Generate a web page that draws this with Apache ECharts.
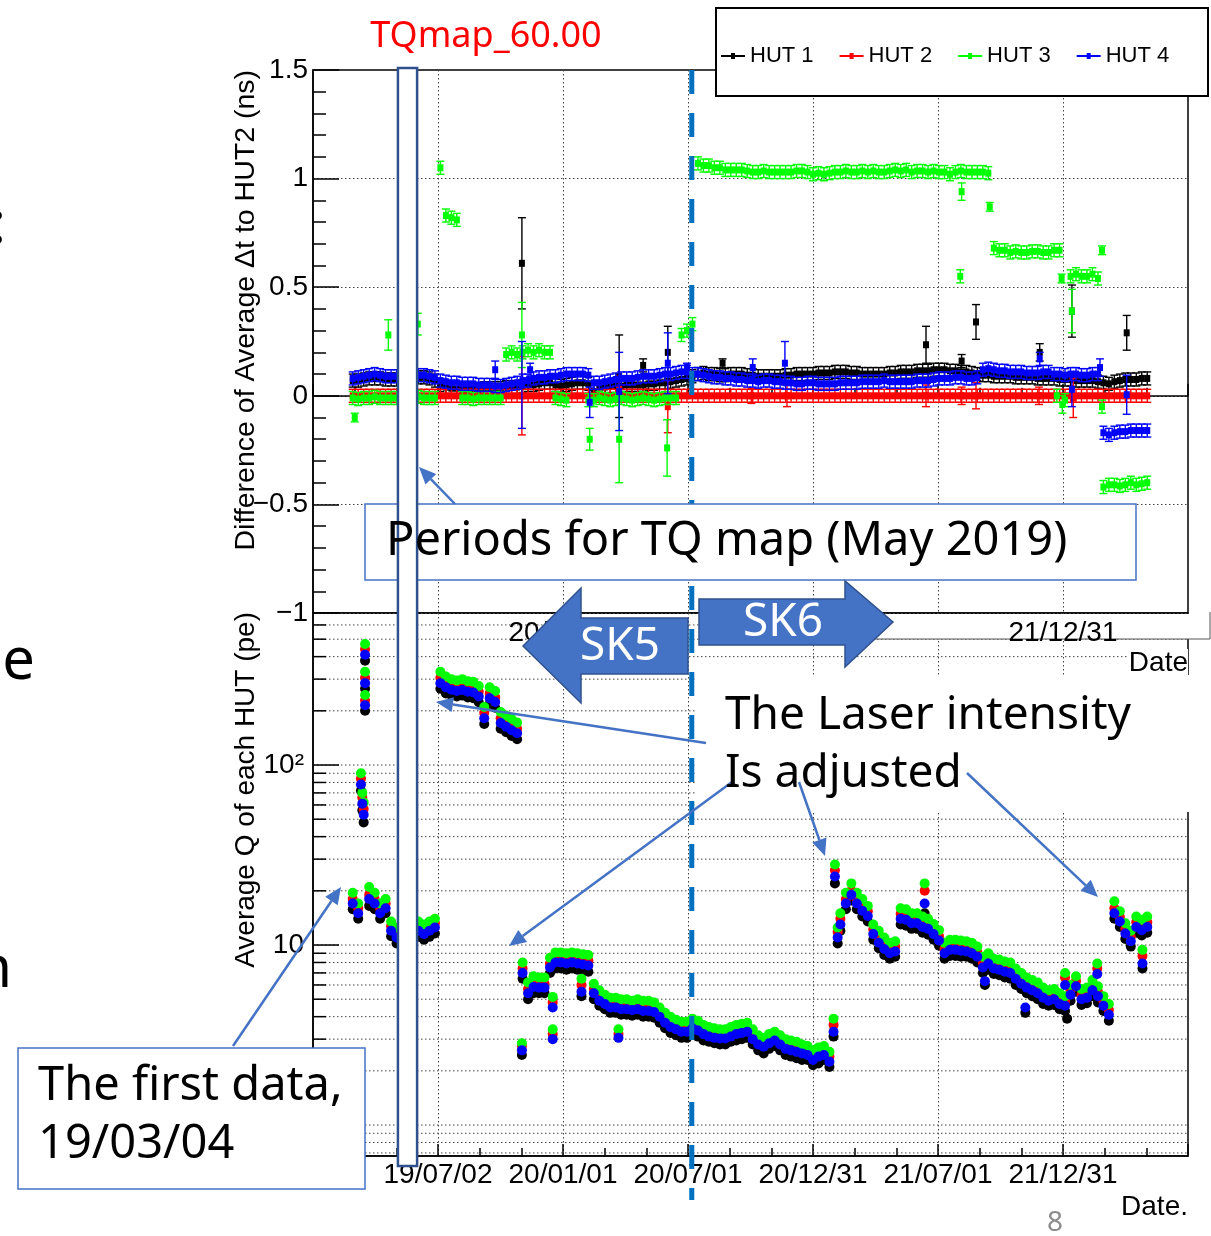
<!DOCTYPE html>
<html>
<head>
<meta charset="utf-8">
<script src="https://cdn.jsdelivr.net/npm/echarts@6/dist/echarts.min.js"></script>
<style>
  html, body { margin: 0; padding: 0; background: #fff; }
  #main { width: 1211px; height: 1236px; }
</style>
</head>
<body>
<div id="main"></div>
<script>
// x values are days counted from 2019-01-01
const days = [
  58, 66, 74, 82, 90, 98, 106, 114, 122, 130,
  138, 146, 154, 162, 170, 178, 186, 194, 202, 210,
  218, 226, 234, 242, 250, 258, 266, 274, 282, 290,
  298, 306, 314, 322, 330, 338, 346, 354, 362, 370,
  378, 386, 394, 402, 410, 418, 426, 434, 442, 450,
  458, 466, 474, 482, 490, 498, 506, 514, 522, 530,
  538, 546, 554, 562, 570, 578, 586, 594, 602, 610,
  618, 626, 634, 642, 650, 658, 666, 674, 682, 690,
  698, 706, 714, 722, 730, 738, 746, 754, 762, 770,
  778, 786, 794, 802, 810, 818, 826, 834, 842, 850,
  858, 866, 874, 882, 890, 898, 906, 914, 922, 930,
  938, 946, 954, 962, 970, 978, 986, 994, 1002, 1010,
  1018, 1026, 1034, 1042, 1050, 1058, 1066, 1074, 1082, 1090,
  1098, 1106, 1114, 1122, 1130, 1138, 1146, 1154, 1162, 1170,
  1178, 1186, 1194, 1202, 1210, 1218
];

const hutNames = ['HUT 1', 'HUT 2', 'HUT 3', 'HUT 4'];
const hutColors = ['#000000', '#ff0000', '#00ff00', '#0000ff'];

// top pad: difference of average dt to HUT2 (ns)
const dtHut1 = [
  0.07, 0.07, 0.075, 0.08, 0.08, 0.08, 0.075, 0.075, 0.075, null,
  null, null, 0.085, 0.085, 0.08, 0.07, 0.05, 0.04, 0.035, 0.035,
  0.03, 0.03, 0.03, 0.03, 0.035, 0.035, 0.035, 0.035, 0.04, 0.04,
  0.04, 0.045, 0.05, 0.05, 0.055, 0.06, 0.06, 0.05, 0.045, 0.05,
  0.055, 0.06, 0.06, 0.055, 0.02, 0.04, 0.04, 0.045, 0.045, 0.045,
  0.05, 0.05, 0.05, 0.05, 0.055, 0.055, 0.06, 0.06, 0.065, 0.07,
  0.075, 0.08, 0.09, 0.1, 0.105, 0.1, 0.1, 0.095, 0.095, 0.1,
  0.1, 0.1, 0.095, 0.095, 0.09, 0.09, 0.09, 0.09, 0.09, 0.095,
  0.095, 0.1, 0.1, 0.1, 0.1, 0.105, 0.105, 0.105, 0.11, 0.11,
  0.11, 0.105, 0.105, 0.1, 0.1, 0.1, 0.1, 0.1, 0.105, 0.105,
  0.11, 0.11, 0.11, 0.115, 0.115, 0.115, 0.12, 0.12, 0.12, 0.115,
  0.115, 0.11, 0.11, 0.105, 0.1, 0.095, 0.095, 0.09, 0.09, 0.09,
  0.09, 0.085, 0.085, 0.085, 0.085, 0.08, 0.08, 0.08, 0.08, 0.075,
  0.075, 0.075, 0.07, 0.07, 0.07, 0.07, 0.065, 0.06, 0.055, 0.065,
  0.07, 0.075, 0.075, 0.075, 0.08, 0.08
];
const dtHut2 = [
  0, 0, 0, 0, 0, 0, 0, 0, 0, null,
  null, null, 0, 0, 0, 0, 0, 0, 0, 0,
  0, 0, 0, 0, 0, 0, 0, 0, 0, 0,
  0, 0, 0, 0, 0, 0, 0, 0, 0, 0,
  0, 0, 0, 0, 0, 0, 0, 0, 0, 0,
  0, 0, 0, 0, 0, 0, 0, 0, 0, 0,
  0, 0, 0, 0, 0, 0, 0, 0, 0, 0,
  0, 0, 0, 0, 0, 0, 0, 0, 0, 0,
  0, 0, 0, 0, 0, 0, 0, 0, 0, 0,
  0, 0, 0, 0, 0, 0, 0, 0, 0, 0,
  0, 0, 0, 0, 0, 0, 0, 0, 0, 0,
  0, 0, 0, 0, 0, 0, 0, 0, 0, 0,
  0, 0, 0, 0, 0, 0, 0, 0, 0, 0,
  0, 0, 0, 0, 0, 0, 0, 0, 0, 0,
  0, 0, 0, 0, 0, 0
];
const dtHut3 = [
  -0.01, -0.015, -0.01, -0.01, -0.005, -0.01, -0.01, -0.01, -0.01, null,
  null, null, -0.005, -0.01, -0.01, -0.01, 1.05, 0.83, 0.82, 0.81,
  -0.01, -0.01, -0.015, -0.01, -0.01, -0.01, -0.01, -0.01, 0.19, 0.2,
  0.19, 0.2, 0.21, 0.2, 0.21, 0.2, 0.2, -0.01, -0.015, -0.02,
  null, null, null, -0.02, -0.02, -0.01, -0.015, -0.02, -0.015, -0.01,
  -0.015, -0.02, -0.015, -0.01, -0.015, -0.02, -0.015, -0.01, -0.01, -0.01,
  0.28, 0.3, 0.33, 1.07, 1.06, 1.06, 1.05, 1.05, 1.04, 1.04,
  1.04, 1.04, 1.035, 1.03, 1.03, 1.035, 1.03, 1.03, 1.03, 1.03,
  1.03, 1.035, 1.035, 1.03, 1.02, 1.025, 1.02, 1.025, 1.03, 1.03,
  1.035, 1.03, 1.03, 1.035, 1.03, 1.035, 1.03, 1.03, 1.035, 1.04,
  1.035, 1.04, 1.03, 1.035, 1.035, 1.03, 1.035, 1.03, 1.03, 1.02,
  1.03, 1.035, 1.03, 1.03, 1.03, 1.03, 1.025, 0.68, 0.67, 0.67,
  0.66, 0.665, 0.66, 0.66, 0.665, 0.665, 0.66, 0.66, 0.67, 0.67,
  -0.02, 0.55, 0.56, 0.55, 0.55, 0.56, 0.54, -0.42, -0.41, -0.41,
  -0.415, -0.41, -0.4, -0.41, -0.405, -0.4
];
const dtHut4 = [
  0.08, 0.085, 0.09, 0.095, 0.1, 0.095, 0.09, 0.09, 0.09, null,
  null, null, 0.095, 0.095, 0.09, 0.085, 0.07, 0.065, 0.06, 0.06,
  0.055, 0.055, 0.055, 0.05, 0.05, 0.05, 0.045, 0.045, 0.05, 0.055,
  0.06, 0.07, 0.07, 0.08, 0.085, 0.085, 0.09, 0.09, 0.095, 0.1,
  0.1, 0.1, 0.1, 0.095, 0.06, 0.06, 0.065, 0.07, 0.075, 0.08,
  0.08, 0.08, 0.085, 0.09, 0.09, 0.09, 0.095, 0.1, 0.1, 0.105,
  0.11, 0.11, 0.1, 0.1, 0.095, 0.09, 0.085, 0.085, 0.08, 0.08,
  0.075, 0.075, 0.07, 0.07, 0.065, 0.07, 0.07, 0.065, 0.065, 0.06,
  0.06, 0.055, 0.055, 0.06, 0.06, 0.055, 0.055, 0.055, 0.055, 0.06,
  0.06, 0.06, 0.06, 0.065, 0.065, 0.065, 0.065, 0.07, 0.065, 0.065,
  0.065, 0.065, 0.065, 0.07, 0.07, 0.07, 0.075, 0.08, 0.08, 0.08,
  0.085, 0.085, 0.08, 0.08, 0.085, 0.12, 0.125, 0.12, 0.115, 0.115,
  0.11, 0.11, 0.11, 0.105, 0.105, 0.105, 0.11, 0.11, 0.1, 0.1,
  0.095, 0.1, 0.1, 0.095, 0.095, 0.1, 0.1, -0.17, -0.18, -0.17,
  -0.165, -0.165, -0.16, -0.16, -0.16, -0.16
];
const DT_ERR = 0.03;

// isolated points with their own error: [day, value, error]
const dtOutliers1 = [[305, 0.61, 0.21], [447, 0.09, 0.19], [518, 0.2, 0.12], [482, 0.14, 0.03],
  [598, 0.15, 0.02], [895, 0.235, 0.085], [947, 0.16, 0.03], [968, 0.34, 0.08], [1061, 0.2, 0.04],
  [1108, 0.39, 0.12], [1188, 0.29, 0.08]];
const dtOutliers2 = [[305, 0, 0.18], [447, 0.03, 0.06], [518, -0.05, 0.12], [640, 0, 0.035],
  [692, 0, 0.05], [895, 0, 0.05], [947, 0, 0.04], [968, 0, 0.06], [1060, 0, 0.04], [1110, -0.01, 0.09]];
const dtOutliers3 = [[61, -0.1, 0.02], [110, 0.28, 0.07], [153, 0.33, 0.05], [305, 0.28, 0.15],
  [404, -0.2, 0.05], [447, -0.2, 0.2], [517, -0.24, 0.13], [945, 0.55, 0.03], [947, 0.94, 0.04],
  [988, 0.87, 0.02], [1086, 0, 0.03], [1093, 0.54, 0.02], [1094, -0.04, 0.04], [1108, 0.39, 0.1],
  [1152, 0.67, 0.02], [1152, -0.05, 0.03]];
const dtOutliers4 = [[266, 0.12, 0.04], [305, 0.05, 0.2], [317, 0.12, 0.03], [404, -0.03, 0.07],
  [447, 0.02, 0.18], [518, 0.15, 0.14], [546, 0.13, 0.02], [642, 0.13, 0.04], [689, 0.15, 0.1],
  [1061, 0.17, 0.03], [1108, 0.03, 0.08], [1149, 0.13, 0.04], [1188, 0.005, 0.09]];

// bottom pad: average Q of each HUT (pe)
const qHut1 = [
  15.8, 14, null, 16.5, 15.8, 14, 15, 11.2, 10.2, null,
  null, null, 11.1, 10.7, 11.1, 11.6, 265, 250, 244, 240,
  243, 237, 235, 223, 169, 219, 208, 159, 152, 145,
  139, 6.5, 5.0, 5.4, 5.4, 5.4, 7.0, 7.4, 7.4, 7.3,
  7.4, 7.3, 7.2, 7.1, 5.0, 4.6, 4.4, 4.2, 4.2, 4.1,
  4.1, 4.05, 4.1, 4.0, 4.0, 3.95, 3.7, 3.45, 3.25, 3.15,
  3.05, 3.05, 3.2, 3.1, 2.95, 2.9, 2.85, 2.8, 2.8, 2.9,
  2.95, 3.0, 3.05, 2.8, 2.6, 2.5, 2.65, 2.75, 2.6, 2.45,
  2.4, 2.35, 2.3, 2.3, 2.15, 2.2, 2.3, 2.1, 22, 12,
  15.8, 17.7, 15.8, 14.4, 13.5, 10.7, 9.6, 8.8, 8.4, 8.6,
  13, 12.8, 12.3, 12.3, 11.7, 11.4, 10.7, 9.9, 8.4, 8.7,
  8.7, 8.6, 8.6, 8.4, 8.0, 7.0, 7.3, 6.9, 6.8, 6.6,
  6.5, 6.0, 5.7, 5.4, 5.2, 5.0, 4.7, 4.6, 4.65, 4.4,
  4.3, 4.9, 5.5, 4.65, 4.75, 5.2, 4.8, 4.3, 3.8, 14,
  12.6, 10.8, 9.8, 11.7, 11.3, 11.7
];
const qHut2 = [
  18, 16, null, 19, 18, 16, 17, 12.7, 11.7, null,
  null, null, 12.7, 12.2, 12.7, 13.2, 305, 288, 278, 274,
  278, 270, 268, 255, 195, 250, 238, 182, 173, 166,
  159, 7.4, 5.7, 6.2, 6.1, 6.1, 7.9, 8.5, 8.5, 8.4,
  8.5, 8.4, 8.3, 8.2, 5.7, 5.2, 5.0, 4.8, 4.8, 4.7,
  4.7, 4.6, 4.7, 4.55, 4.55, 4.5, 4.25, 3.9, 3.7, 3.6,
  3.5, 3.5, 3.65, 3.55, 3.4, 3.3, 3.2, 3.2, 3.2, 3.3,
  3.4, 3.45, 3.5, 3.2, 2.95, 2.9, 3.0, 3.1, 2.95, 2.8,
  2.75, 2.7, 2.65, 2.6, 2.45, 2.55, 2.6, 2.4, 26, 14,
  18, 20, 18, 16.5, 15.4, 12.2, 11, 10, 9.5, 9.8,
  14.9, 14.6, 14, 14, 13.4, 13, 12.2, 11.2, 9.5, 10,
  10, 9.9, 9.8, 9.5, 9.1, 8.0, 8.4, 7.8, 7.7, 7.5,
  7.4, 6.9, 6.5, 6.1, 5.9, 5.7, 5.4, 5.2, 5.3, 5.0,
  4.9, 5.6, 6.3, 5.3, 5.4, 5.9, 5.5, 4.9, 4.35, 16,
  14.3, 12.3, 11.1, 13.4, 12.8, 13.4
];
const qHut3 = [
  19.5, 17, null, 21, 19.5, 17, 18, 13.5, 12.5, null,
  null, null, 13.5, 13, 13.5, 14, 330, 310, 300, 295,
  300, 292, 290, 275, 210, 270, 258, 197, 188, 180,
  172, 8.0, 6.2, 6.7, 6.6, 6.6, 8.5, 9.1, 9.1, 9.0,
  9.1, 9.0, 8.9, 8.8, 6.1, 5.6, 5.3, 5.1, 5.1, 5.0,
  5.0, 4.9, 5.0, 4.9, 4.9, 4.8, 4.5, 4.2, 4.0, 3.85,
  3.75, 3.75, 3.9, 3.8, 3.6, 3.5, 3.45, 3.4, 3.4, 3.5,
  3.6, 3.65, 3.7, 3.4, 3.15, 3.05, 3.2, 3.3, 3.15, 3.0,
  2.95, 2.9, 2.8, 2.75, 2.6, 2.7, 2.75, 2.55, 28, 15,
  19.5, 22, 19.5, 18, 16.5, 13, 12, 11, 10.3, 10.5,
  16, 15.8, 15, 15, 14.4, 14, 13.1, 12.1, 10.3, 10.7,
  10.7, 10.6, 10.5, 10.3, 9.8, 8.6, 9.0, 8.4, 8.3, 8.1,
  8.0, 7.4, 7.0, 6.6, 6.4, 6.2, 5.8, 5.6, 5.7, 5.4,
  5.2, 6.0, 6.7, 5.7, 5.8, 6.4, 5.9, 5.2, 4.7, 17.5,
  15.4, 13.2, 12, 14.4, 13.8, 14.4
];
const qHut4 = [
  17, 15, null, 18, 17, 15, 16, 12, 11, null,
  null, null, 12, 11.5, 12, 12.5, 285, 270, 262, 258,
  261, 255, 253, 240, 182, 235, 224, 171, 163, 156,
  150, 7.0, 5.4, 5.85, 5.8, 5.8, 7.5, 8.0, 8.0, 7.9,
  8.0, 7.9, 7.8, 7.7, 5.4, 4.9, 4.7, 4.5, 4.5, 4.4,
  4.4, 4.35, 4.4, 4.3, 4.3, 4.25, 4.0, 3.7, 3.5, 3.4,
  3.3, 3.3, 3.45, 3.35, 3.2, 3.1, 3.05, 3.03, 3.03, 3.1,
  3.2, 3.25, 3.3, 3.0, 2.8, 2.72, 2.85, 2.95, 2.8, 2.65,
  2.6, 2.55, 2.5, 2.45, 2.3, 2.4, 2.45, 2.25, 24, 13,
  17, 19, 17, 15.5, 14.5, 11.5, 10.3, 9.5, 9.0, 9.2,
  14, 13.8, 13.2, 13.2, 12.6, 12.3, 11.5, 10.6, 9.0, 9.4,
  9.4, 9.3, 9.2, 9.0, 8.6, 7.5, 7.9, 7.4, 7.3, 7.1,
  7.0, 6.5, 6.1, 5.8, 5.6, 5.4, 5.1, 4.9, 5.0, 4.7,
  4.6, 5.3, 5.9, 5.0, 5.1, 5.6, 5.2, 4.6, 4.1, 15,
  13.5, 11.6, 10.5, 12.6, 12.1, 12.6
];

// laser-intensity scans and stray points: [day, Q]
const qOutliers1 = [[76, 380], [76, 265], [76, 200], [70, 72], [72, 56], [74, 48], [305, 2.45],
  [392, 5.2], [760, 3.1], [766, 10.2], [893, 15], [981, 6.0], [1040, 4.2], [1101, 3.9], [1211, 7.4]];
const qOutliers2 = [[76, 440], [76, 305], [76, 228], [70, 84], [72, 66], [74, 57], [305, 2.75],
  [350, 3.2], [350, 4.8], [392, 6.0], [446, 3.2], [760, 3.6], [766, 11.8], [893, 20], [1098, 6.6],
  [1145, 7.4], [1211, 8.7]];
const qOutliers3 = [[76, 470], [76, 330], [76, 245], [70, 90], [72, 70], [74, 62], [305, 2.85],
  [350, 3.4], [350, 5.15], [392, 6.5], [446, 3.4], [760, 3.9], [766, 12.5], [893, 22], [1098, 7.0],
  [1145, 7.9], [1211, 9.4]];
const qOutliers4 = [[76, 410], [76, 285], [76, 215], [70, 78], [72, 61], [74, 53], [305, 2.6],
  [350, 3.0], [350, 4.5], [392, 5.5], [446, 3.05], [760, 3.3], [766, 11], [893, 17], [981, 6.3],
  [1040, 4.5], [1098, 6.0], [1145, 6.9], [1211, 7.9]];

// axis helpers
const dateLabels = ['19/01/01', '19/07/02', '20/01/01', '20/07/01', '20/12/31', '21/07/01', '21/12/31', '22/07/02'];
const HALF_YEAR = 182.5;
const X_MIN = 0, X_MAX = 1277.5;
const qGridValues = [0.7, 0.8, 0.9, 1, 2, 3, 4, 5, 6, 7, 8, 9, 10, 20, 30, 40, 50, 60, 70, 80, 90,
  100, 200, 300, 400, 500, 600];
const tqPeriodDays = [124, 152];
const sk6StartDay = 553;

const ROOT_FONT = '"Liberation Sans", Arial, sans-serif';
const SLIDE_FONT = '"Noto Sans", sans-serif';
const ANNOT_BLUE = '#4472c4';
const GRID_DOT = { color: '#444', width: 1, type: [1.5, 2.5] };

const chart = echarts.init(document.getElementById('main'), null, { renderer: 'canvas' });

function mainPoints(vals, err) {
  const out = [];
  days.forEach((d, i) => {
    if (vals[i] !== null) out.push(err === undefined ? [d, vals[i]] : [d, vals[i], err]);
  });
  return out;
}

function dtPoint(params, api) {
  const d = api.value(0), v = api.value(1), e = api.value(2);
  const p = api.coord([d, v]);
  const lo = api.coord([d, v - e])[1];
  const hi = api.coord([d, v + e])[1];
  const col = api.visual('color');
  const st = { stroke: col, lineWidth: 1.4 };
  return {
    type: 'group',
    children: [
      { type: 'line', shape: { x1: p[0], y1: lo, x2: p[0], y2: hi }, style: st },
      { type: 'line', shape: { x1: p[0] - 4, y1: lo, x2: p[0] + 4, y2: lo }, style: st },
      { type: 'line', shape: { x1: p[0] - 4, y1: hi, x2: p[0] + 4, y2: hi }, style: st },
      { type: 'rect', shape: { x: p[0] - 3, y: p[1] - 3.5, width: 6, height: 7 }, style: { fill: col } }
    ]
  };
}

function qPoint(params, api) {
  const p = api.coord([api.value(0), api.value(1)]);
  return { type: 'circle', shape: { cx: p[0], cy: p[1], r: 5 }, style: { fill: api.visual('color') } };
}

function qGridLine(params, api) {
  const v = api.value(1);
  const a = api.coord([X_MIN, v]), b = api.coord([X_MAX, v]);
  const lg = Math.log10(v);
  const major = Math.abs(lg - Math.round(lg)) < 1e-9;
  return {
    type: 'group',
    children: [
      { type: 'line', shape: { x1: a[0], y1: a[1], x2: b[0], y2: b[1] },
        style: { stroke: GRID_DOT.color, lineWidth: 1, lineDash: GRID_DOT.type } },
      { type: 'line', shape: { x1: a[0], y1: a[1], x2: a[0] + (major ? 26 : 13), y2: a[1] },
        style: { stroke: '#000', lineWidth: 1.5 } }
    ]
  };
}

const dtSeriesVals = [dtHut1, dtHut2, dtHut3, dtHut4];
const dtOutliers = [dtOutliers1, dtOutliers2, dtOutliers3, dtOutliers4];
const qSeriesVals = [qHut1, qHut2, qHut3, qHut4];
const qOutliers = [qOutliers1, qOutliers2, qOutliers3, qOutliers4];

const series = [];
hutNames.forEach((name, k) => {
  series.push({
    type: 'custom', name, xAxisIndex: 0, yAxisIndex: 0, clip: true, silent: true,
    itemStyle: { color: hutColors[k] },
    renderItem: dtPoint,
    data: mainPoints(dtSeriesVals[k], DT_ERR).concat(dtOutliers[k])
  });
});
series.push({
  type: 'custom', name: 'qGrid', xAxisIndex: 1, yAxisIndex: 1, clip: false, silent: true, z: 1,
  renderItem: qGridLine,
  data: qGridValues.map(v => [X_MIN, v])
});
hutNames.forEach((name, k) => {
  series.push({
    type: 'custom', name, xAxisIndex: 1, yAxisIndex: 1, clip: true, silent: true,
    itemStyle: { color: hutColors[k] },
    renderItem: qPoint,
    data: mainPoints(qSeriesVals[k]).concat(qOutliers[k])
  });
});

function dateFormatter(shown) {
  return v => {
    const idx = Math.round(v / HALF_YEAR);
    return shown.indexOf(idx) >= 0 ? dateLabels[idx] : '';
  };
}

const axisLineStyle = { lineStyle: { color: '#000', width: 1.5 } };
const labelFont = { fontFamily: ROOT_FONT, fontSize: 28, color: '#000' };

const option = {
  animation: false,
  backgroundColor: '#fff',
  grid: [
    { left: 313, top: 70, width: 875, height: 543, show: true, borderColor: '#000', borderWidth: 1.5,
      backgroundColor: 'transparent', outerBoundsMode: 'none' },
    { left: 313, top: 613, width: 875, height: 543, show: true, borderColor: '#000', borderWidth: 1.5,
      backgroundColor: 'transparent', outerBoundsMode: 'none' }
  ],
  xAxis: [
    { gridIndex: 0, type: 'value', min: X_MIN, max: X_MAX, interval: HALF_YEAR, position: 'bottom',
      axisLine: axisLineStyle,
      axisTick: { inside: true, length: 12, lineStyle: { color: '#000', width: 1.5 } },
      minorTick: { show: true, splitNumber: 3, length: 8, lineStyle: { color: '#000', width: 1.5 } },
      splitLine: { show: true, lineStyle: GRID_DOT },
      axisLabel: { show: false } },
    { gridIndex: 1, type: 'value', min: X_MIN, max: X_MAX, interval: HALF_YEAR, position: 'bottom',
      axisLine: axisLineStyle,
      axisTick: { inside: true, length: 12, lineStyle: { color: '#000', width: 1.5 } },
      minorTick: { show: true, splitNumber: 3, length: 8, lineStyle: { color: '#000', width: 1.5 } },
      splitLine: { show: true, lineStyle: GRID_DOT },
      axisLabel: Object.assign({ margin: 5, formatter: dateFormatter([1, 2, 3, 4, 5, 6]) }, labelFont) },
    // label-only copy of the top time axis, drawn above the page patches
    { gridIndex: 0, type: 'value', min: X_MIN, max: X_MAX, interval: HALF_YEAR, position: 'bottom', z: 5,
      axisLine: { show: false }, axisTick: { show: false }, splitLine: { show: false },
      axisLabel: Object.assign({ margin: 6, formatter: dateFormatter([2, 6]) }, labelFont) }
  ],
  yAxis: [
    { gridIndex: 0, type: 'value', min: -1, max: 1.5, interval: 0.5,
      axisLine: axisLineStyle,
      axisTick: { inside: true, length: 26, lineStyle: { color: '#000', width: 1.5 } },
      minorTick: { show: true, splitNumber: 5, length: 13, lineStyle: { color: '#000', width: 1.5 } },
      splitLine: { show: true, lineStyle: GRID_DOT },
      axisLabel: Object.assign({ margin: 5, formatter: v => String(v).replace('-', '\u2212') }, labelFont) },
    { gridIndex: 1, type: 'log', logBase: 10, min: 0.673, max: 699,
      axisLine: axisLineStyle,
      axisTick: { show: false }, minorTick: { show: false }, splitLine: { show: false },
      axisLabel: Object.assign({
        margin: 9,
        formatter: v => {
          const lg = Math.log10(v);
          if (Math.abs(lg - Math.round(lg)) > 1e-6) return '';
          const p = Math.round(lg);
          return p === 0 ? '1' : p === 1 ? '10' : p === 2 ? '10\u00b2' : '';
        }
      }, labelFont) }
  ],
  legend: {
    left: 716, top: 40, z: 10, selectedMode: false,
    itemWidth: 24, itemHeight: 10, itemGap: 26,
    textStyle: { fontFamily: ROOT_FONT, fontSize: 22, color: '#000' },
    data: hutNames.map(n => ({ name: n, icon: 'path://M0,4 L24,4 L24,6 L0,6 Z M10,2 L14,2 L14,8 L10,8 Z' }))
  },
  series
};

chart.setOption(option);

function arrowLine(x1, y1, x2, y2) {
  const ang = Math.atan2(y2 - y1, x2 - x1);
  const L = 17, W = 7.5;
  const bx = x2 - L * Math.cos(ang), by = y2 - L * Math.sin(ang);
  const nx = -Math.sin(ang) * W, ny = Math.cos(ang) * W;
  return [
    { type: 'line', z: 80, shape: { x1, y1, x2: bx, y2: by }, style: { stroke: ANNOT_BLUE, lineWidth: 2.5 } },
    { type: 'polygon', z: 80, shape: { points: [[x2, y2], [bx + nx, by + ny], [bx - nx, by - ny]] },
      style: { fill: ANNOT_BLUE } }
  ];
}

function slideText(text, x, y, size, opts) {
  return {
    type: 'text', z: 90,
    style: Object.assign({ text, x, y, fill: '#000', fontFamily: SLIDE_FONT, fontSize: size,
      align: 'left', verticalAlign: 'middle' }, opts || {})
  };
}

const toPx = d => chart.convertToPixel({ xAxisIndex: 0 }, d);
const tqX0 = toPx(tqPeriodDays[0]);
const tqX1 = toPx(tqPeriodDays[1]);
const skX = toPx(sk6StartDay);

const graphics = [
  // patches of the pasted top picture
  { type: 'rect', z: 3, shape: { x: 872, y: 614, width: 338, height: 25 }, style: { fill: '#fff' } },
  { type: 'polyline', z: 3, shape: { points: [[872, 639], [1210, 639], [1210, 612]] },
    style: { stroke: '#555', lineWidth: 1, fill: null } },
  { type: 'text', z: 3, style: { text: 'Date', x: 1188, y: 663, align: 'right', verticalAlign: 'middle',
    fontFamily: ROOT_FONT, fontSize: 28, fill: '#000', backgroundColor: '#fff' } },
  { type: 'text', z: 3, style: { text: 'Date.', x: 1188, y: 1207, align: 'right', verticalAlign: 'middle',
    fontFamily: ROOT_FONT, fontSize: 28, fill: '#000' } },
  // legend frame
  { type: 'rect', z: 9, shape: { x: 716, y: 8, width: 492, height: 88 },
    style: { fill: '#fff', stroke: '#000', lineWidth: 2 } },
  // y axis titles
  { type: 'text', z: 4, rotation: Math.PI / 2, x: 246, y: 70,
    style: { text: 'Difference of Average \u0394t to HUT2 (ns)', x: 0, y: 0, align: 'right', verticalAlign: 'middle',
      fontFamily: ROOT_FONT, fontSize: 28.5, fill: '#000' } },
  { type: 'text', z: 4, rotation: Math.PI / 2, x: 246, y: 612,
    style: { text: 'Average Q of each HUT (pe)', x: 0, y: 0, align: 'right', verticalAlign: 'middle',
      fontFamily: ROOT_FONT, fontSize: 28, fill: '#000' } },
  // SK5 / SK6 boundary
  { type: 'line', z: 50, shape: { x1: skX, y1: 70, x2: skX, y2: 1200 },
    style: { stroke: '#0070c0', lineWidth: 5, lineDash: [24, 19] } },
  // callout boxes
  { type: 'rect', z: 60, shape: { x: 365, y: 504, width: 771, height: 76 },
    style: { fill: '#fff', stroke: ANNOT_BLUE, lineWidth: 1.5 } },
  { type: 'rect', z: 60, shape: { x: 697, y: 675, width: 500, height: 137 }, style: { fill: '#fff' } },
  { type: 'rect', z: 60, shape: { x: 18, y: 1048, width: 347, height: 141 },
    style: { fill: '#fff', stroke: ANNOT_BLUE, lineWidth: 1.5 } },
  // TQ map period band
  { type: 'rect', z: 70, shape: { x: tqX0, y: 68, width: tqX1 - tqX0, height: 1098 },
    style: { fill: '#fff', stroke: '#2f528f', lineWidth: 2.5 } },
  // SK block arrows
  { type: 'polygon', z: 80,
    shape: { points: [[523, 646], [581, 588], [581, 618], [688, 618], [688, 674], [581, 674], [581, 703]] },
    style: { fill: ANNOT_BLUE, stroke: '#2f528f', lineWidth: 1.5 } },
  { type: 'polygon', z: 80,
    shape: { points: [[699, 599], [845, 599], [845, 581], [893, 622], [845, 667], [845, 645], [699, 645]] },
    style: { fill: ANNOT_BLUE, stroke: '#2f528f', lineWidth: 1.5 } },
  slideText('SK5', 620, 647, 46, { fill: '#fff', align: 'center' }),
  slideText('SK6', 783, 623, 46, { fill: '#fff', align: 'center' }),
  // texts
  slideText('TQmap_60.00', 486, 37, 36, { fill: '#ff0000', align: 'center' }),
  slideText('Periods for TQ map (May 2019)', 386, 542, 47),
  slideText('The Laser intensity', 725, 716, 46),
  slideText('Is adjusted', 725, 774, 46),
  slideText('The first data,', 38, 1087, 47),
  slideText('19/03/04', 38, 1145, 47),
  slideText(':', 6, 226, 58, { align: 'right' }),
  slideText('ne', 35, 662, 58, { align: 'right' }),
  slideText('n', 12, 970, 58, { align: 'right' }),
  slideText('8', 1055, 1223, 28, { fill: '#8c8c8c', align: 'center' })
].concat(
  arrowLine(455, 504, 419, 467),
  arrowLine(706, 743, 436, 702),
  arrowLine(732, 782, 509, 946),
  arrowLine(799, 782, 825, 856),
  arrowLine(967, 773, 1098, 897),
  arrowLine(233, 1046, 341, 887)
);

chart.setOption({ graphic: graphics });
</script>
</body>
</html>
